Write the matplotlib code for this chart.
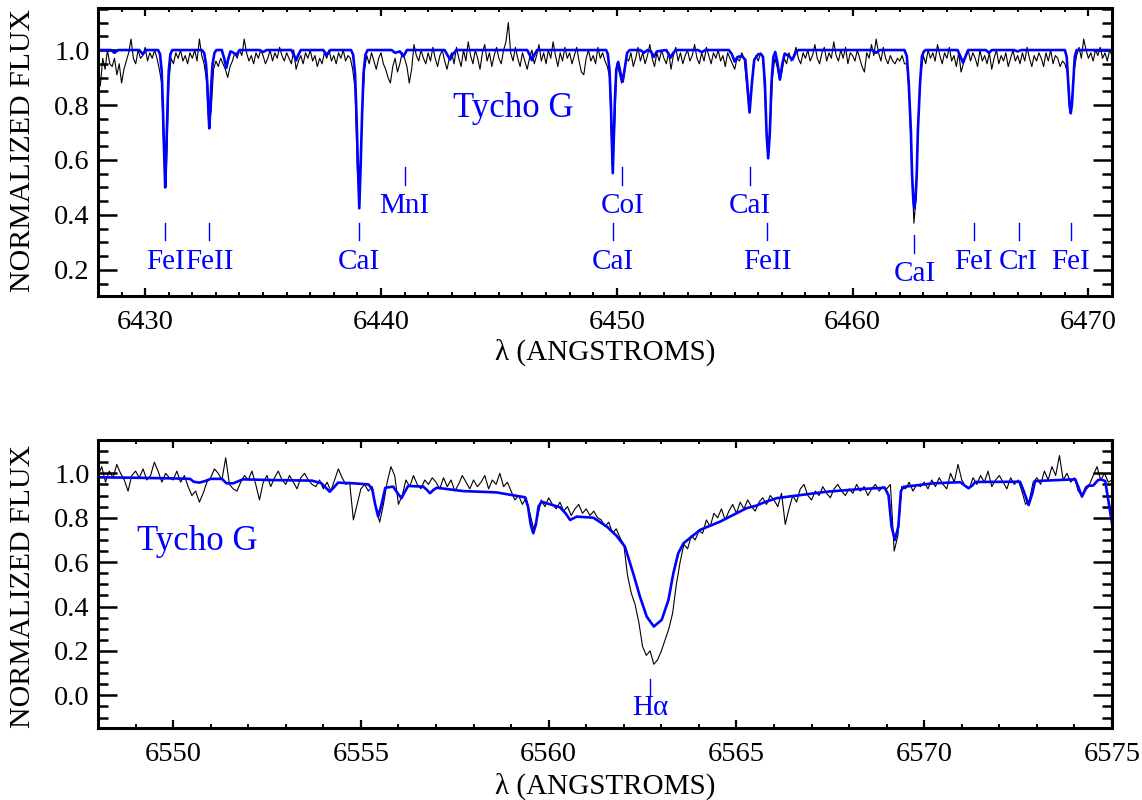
import numpy as np
import matplotlib
matplotlib.use("Agg")
import matplotlib.pyplot as plt
from matplotlib.ticker import MultipleLocator, FormatStrFormatter

plt.rcParams["font.family"] = ["Liberation Serif", "DejaVu Serif"]

BLUE = "#0000ff"

# ---------------- top panel: 6428-6471 A ----------------
# observed spectrum, 0.1 A sampling, flux in hundredths (one row per Angstrom)
obs_top_flux = np.array([
    92, 87, 97, 93, 100, 95, 94, 97, 91, 95,      # 6428
    88, 93, 96, 99, 104, 97, 95, 100, 97, 98,     # 6429
    101, 96, 99, 97, 100, 97, 93, 88, 60, 56,     # 6430
    88, 97, 95, 99, 97, 100, 96, 98, 95, 99,      # 6431
    97, 100, 96, 104, 98, 95, 89, 73, 78, 93,     # 6432
    96, 94, 97, 95, 93, 90, 94, 96, 99, 97,       # 6433
    100, 98, 104, 99, 96, 98, 95, 99, 97, 100,    # 6434
    98, 95, 97, 100, 96, 99, 97, 101, 98, 96,     # 6435
    99, 97, 95, 100, 93, 96, 98, 95, 99, 97,      # 6436
    100, 96, 98, 94, 97, 95, 99, 97, 100, 96,     # 6437
    98, 95, 99, 97, 100, 96, 98, 97, 93, 86,      # 6438
    56, 47, 76, 93, 98, 95, 99, 96, 93, 97,       # 6439
    99, 95, 93, 90, 88, 94, 97, 92, 95, 99,       # 6440
    97, 94, 88, 93, 102, 98, 96, 100, 97, 95,     # 6441
    99, 96, 101, 97, 94, 98, 100, 96, 93, 97,     # 6442
    99, 95, 101, 97, 94, 100, 96, 103, 98, 95,    # 6443
    100, 97, 93, 99, 102, 96, 99, 94, 98, 101,    # 6444
    97, 95, 100, 103, 110, 99, 96, 101, 97, 94,   # 6445
    99, 96, 93, 97, 100, 95, 98, 102, 96, 99,     # 6446
    95, 100, 97, 103, 98, 94, 99, 96, 101, 97,    # 6447
    99, 95, 98, 101, 96, 92, 91, 97, 100, 96,     # 6448
    98, 95, 101, 97, 99, 96, 94, 90, 58, 70,      # 6449
    95, 92, 88, 90, 97, 96, 99, 94, 97, 101,      # 6450
    96, 99, 95, 98, 102, 97, 94, 99, 96, 100,     # 6451
    97, 95, 99, 93, 98, 101, 96, 99, 95, 98,      # 6452
    100, 96, 98, 102, 97, 95, 99, 96, 101, 98,    # 6453
    95, 99, 97, 100, 96, 98, 94, 99, 97, 95,      # 6454
    93, 97, 96, 99, 97, 88, 79, 84, 95, 98,       # 6455
    96, 99, 97, 80, 62, 70, 90, 97, 94, 89,       # 6456
    92, 97, 95, 99, 96, 98, 101, 97, 95, 99,      # 6457
    97, 100, 96, 98, 102, 97, 95, 99, 101, 96,    # 6458
    99, 97, 103, 98, 96, 100, 97, 101, 95, 99,    # 6459
    98, 96, 100, 97, 94, 92, 99, 97, 102, 98,     # 6460
    104, 99, 96, 101, 97, 95, 98, 96, 95, 97,     # 6461
    96, 98, 95, 95, 84, 58, 37, 47, 78, 92,       # 6462
    98, 95, 100, 97, 99, 96, 102, 98, 95, 99,     # 6463
    97, 101, 96, 98, 94, 99, 92, 95, 98, 100,     # 6464
    96, 99, 97, 94, 100, 96, 98, 95, 99, 93,      # 6465
    97, 100, 95, 98, 96, 99, 94, 97, 100, 96,     # 6466
    98, 95, 99, 96, 101, 97, 94, 98, 96, 99,      # 6467
    97, 94, 99, 96, 100, 95, 98, 97, 94, 96,      # 6468
    95, 92, 79, 80, 93, 98, 101, 97, 104, 100,    # 6469
    97, 99, 96, 100, 98, 101, 97, 99, 96, 100,    # 6470
    98,                                           # 6471
]) / 100.0
obs_top_wave = np.linspace(6428.0, 6471.0, len(obs_top_flux))

# synthetic spectrum nodes
model_top_wave = [
    6428.0, 6428.55, 6428.7, 6428.85,
    6429.75, 6429.9, 6430.05,
    6430.55, 6430.63, 6430.7, 6430.75, 6430.8, 6430.85, 6430.9, 6430.95, 6431.0, 6431.07, 6431.15,
    6432.4, 6432.5, 6432.58, 6432.64, 6432.68, 6432.72, 6432.76, 6432.8, 6432.86, 6432.94, 6433.02,
    6433.25, 6433.35, 6433.44, 6433.53, 6433.62, 6433.75, 6433.87, 6434.0,
    6434.85, 6435.0, 6435.15,
    6436.2, 6436.32, 6436.4, 6436.48, 6436.6,
    6437.55, 6437.7, 6437.85,
    6438.73, 6438.82, 6438.9, 6438.96, 6439.02, 6439.08, 6439.14, 6439.2, 6439.26, 6439.34, 6439.43,
    6440.45, 6440.6, 6440.8, 6440.95, 6441.1,
    6442.7, 6442.82, 6442.93, 6443.05, 6443.2,
    6446.2, 6446.32, 6446.4, 6446.5, 6446.62,
    6449.55, 6449.62, 6449.69, 6449.75, 6449.79, 6449.83, 6449.87, 6449.92, 6449.98, 6450.06,
    6450.15, 6450.25, 6450.35, 6450.44, 6450.55,
    6451.0, 6451.15, 6451.3, 6451.45, 6451.57, 6451.7,
    6452.1, 6452.2, 6452.28, 6452.38, 6452.5,
    6453.45, 6453.6, 6453.75,
    6454.75, 6454.88, 6455.0, 6455.12, 6455.3, 6455.45, 6455.53, 6455.63, 6455.73, 6455.83,
    6456.0, 6456.12, 6456.2, 6456.28, 6456.35, 6456.42, 6456.49, 6456.56, 6456.64, 6456.72,
    6456.8, 6456.92, 6457.02, 6457.12, 6457.3, 6457.45, 6457.58, 6457.7,
    6460.85, 6461.0, 6461.15,
    6462.2, 6462.3, 6462.38, 6462.47, 6462.52, 6462.57, 6462.62, 6462.67, 6462.72, 6462.77,
    6462.86, 6462.94, 6463.02, 6463.1,
    6464.45, 6464.58, 6464.68, 6464.78, 6464.9,
    6465.65, 6465.78, 6465.9,
    6466.85, 6467.0, 6467.15,
    6469.0, 6469.08, 6469.14, 6469.2, 6469.25, 6469.3, 6469.36, 6469.42, 6469.5,
    6471.0,
]
model_top_flux = [
    1.0, 1.0, 0.99, 1.0,
    1.0, 0.985, 1.0,
    1.0, 0.985, 0.925, 0.80, 0.64, 0.50, 0.64, 0.80, 0.925, 0.985, 1.0,
    1.0, 0.99, 0.95, 0.87, 0.78, 0.715, 0.78, 0.87, 0.95, 0.99, 1.0,
    1.0, 0.97, 0.935, 0.97, 0.995, 0.99, 0.982, 1.0,
    1.0, 0.993, 1.0,
    1.0, 0.98, 0.962, 0.98, 1.0,
    1.0, 0.982, 1.0,
    1.0, 0.983, 0.914, 0.77, 0.585, 0.424, 0.585, 0.77, 0.914, 0.983, 1.0,
    1.0, 0.99, 0.995, 0.977, 1.0,
    1.0, 0.982, 0.965, 0.985, 1.0,
    1.0, 0.98, 0.963, 0.982, 1.0,
    1.0, 0.985, 0.93, 0.80, 0.67, 0.552, 0.67, 0.82, 0.93, 0.957,
    0.92, 0.885, 0.94, 0.99, 1.0,
    1.0, 0.99, 1.0, 0.995, 0.975, 0.995,
    1.0, 0.985, 0.972, 0.988, 1.0,
    1.0, 0.992, 1.0,
    1.0, 0.985, 0.958, 0.975, 0.978, 0.965, 0.88, 0.773, 0.88, 0.965,
    0.985, 0.985, 0.975, 0.88, 0.70, 0.606, 0.70, 0.88, 0.975, 0.993,
    0.96, 0.893, 0.95, 0.987, 0.978, 0.965, 0.99, 1.0,
    1.0, 0.99, 1.0,
    1.0, 0.977, 0.88, 0.71, 0.55, 0.46, 0.424, 0.46, 0.55, 0.71,
    0.88, 0.977, 0.995, 1.0,
    1.0, 0.975, 0.954, 0.975, 1.0,
    1.0, 0.99, 1.0,
    1.0, 0.995, 1.0,
    1.0, 0.975, 0.89, 0.80, 0.77, 0.80, 0.89, 0.975, 1.0,
    1.0,
]

# line identifications: wavelength, label, tick bottom/top, label height
id_top_wave = [6430.85, 6432.72, 6439.08, 6441.0, 6450.23, 6449.83,
               6455.63, 6456.38, 6462.62, 6465.15, 6467.04, 6469.25]
id_top_name = ["FeI", "FeII", "CaI", "MnI", "CoI", "CaI",
               "CaI", "FeII", "CaI", "FeI", "CrI", "FeI"]
id_top_tick_lo = [0.309, 0.309, 0.309, 0.509, 0.509, 0.309,
                  0.509, 0.309, 0.260, 0.309, 0.309, 0.309]
id_top_tick_hi = [0.372, 0.372, 0.372, 0.576, 0.576, 0.372,
                  0.576, 0.372, 0.327, 0.372, 0.372, 0.372]
id_top_text_y = [0.229, 0.229, 0.229, 0.434, 0.434, 0.229,
                 0.434, 0.229, 0.184, 0.229, 0.229, 0.229]

# ---------------- bottom panel: 6548-6575 A (H-alpha) ----------------
obs_bot_flux = np.array([
    99, 103, 96, 101, 98, 104, 100, 97, 92, 99,   # 6548
    101, 98, 102, 97, 99, 105, 101, 96, 100, 98,  # 6549
    97, 101, 96, 99, 94, 90, 92, 87, 91, 96,      # 6550
    98, 102, 100, 97, 107, 95, 93, 92, 96, 99,    # 6551
    97, 101, 95, 88, 96, 99, 94, 98, 101, 97,     # 6552
    95, 99, 96, 93, 98, 100, 97, 95, 94, 97,      # 6553
    93, 96, 92, 97, 102, 98, 95, 96, 79, 86,      # 6554
    93, 95, 92, 94, 84, 78, 86, 96, 103, 99,      # 6555
    86, 90, 97, 94, 99, 95, 93, 97, 95, 98,       # 6556
    96, 93, 98, 94, 97, 92, 95, 99, 96, 93,       # 6557
    97, 94, 96, 99, 93, 97, 95, 100, 94, 96,      # 6558
    92, 88, 90, 86, 89, 82, 75, 80, 88, 85,       # 6559
    89, 86, 84, 87, 83, 85, 81, 84, 86, 82,       # 6560
    84, 81, 83, 80, 79, 76, 78, 73, 75, 71,       # 6561
    68, 54, 46, 41, 33, 22, 18, 20, 14, 16,       # 6562
    20, 25, 30, 37, 50, 60, 68, 66, 72, 70,       # 6563
    74, 73, 79, 76, 82, 80, 84, 79, 83, 86,       # 6564
    82, 87, 84, 88, 85, 83, 87, 89, 86, 90,       # 6565
    88, 85, 91, 77, 84, 90, 87, 93, 95, 90,       # 6566
    88, 92, 90, 94, 91, 89, 93, 95, 92, 90,       # 6567
    93, 91, 95, 92, 94, 90, 93, 95, 92, 94,       # 6568
    93, 95, 65, 72, 94, 93, 96, 92, 95, 94,       # 6569
    96, 93, 97, 94, 98, 95, 93, 100, 96, 104,     # 6570
    97, 94, 93, 98, 95, 99, 96, 101, 94, 97,      # 6571
    99, 96, 93, 98, 95, 97, 92, 86, 88, 96,       # 6572
    98, 95, 101, 97, 103, 99, 108, 97, 100, 96,   # 6573
    98, 92, 90, 94, 95, 99, 103, 97, 100, 96,     # 6574
    97,                                           # 6575
]) / 100.0
obs_bot_wave = np.linspace(6548.0, 6575.0, len(obs_bot_flux))

model_bot_wave = [
    6548.0, 6549.0, 6550.0, 6550.45, 6550.55, 6550.7, 6550.85, 6551.0, 6551.3, 6551.42,
    6551.6, 6551.86, 6552.5, 6553.7, 6553.95, 6554.17, 6554.3, 6554.39, 6554.8, 6555.2,
    6555.3, 6555.38, 6555.46, 6555.55, 6555.65, 6555.86, 6555.98, 6556.08, 6556.18, 6556.26,
    6556.66, 6556.76, 6556.84, 6556.93, 6557.02, 6557.72, 6558.61, 6559.37, 6559.45, 6559.52,
    6559.59, 6559.66, 6559.73, 6559.81, 6560.3, 6560.45, 6560.57, 6560.75, 6561.19, 6561.55,
    6561.8, 6562.03, 6562.25, 6562.43, 6562.61, 6562.8, 6563.01, 6563.19, 6563.32, 6563.45,
    6563.59, 6564.03, 6564.56, 6565.27, 6565.54, 6565.72, 6566.07, 6566.52, 6567.4, 6568.29,
    6568.95, 6569.05, 6569.13, 6569.22, 6569.31, 6569.38, 6569.45, 6570.25, 6570.96, 6571.08,
    6571.18, 6571.28, 6571.36, 6572.55, 6572.65, 6572.78, 6572.88, 6572.95, 6574.02, 6574.1,
    6574.2, 6574.3, 6574.38, 6574.5, 6574.62, 6574.7, 6574.82, 6574.9, 6575.0,
]
model_bot_flux = [
    0.982, 0.98, 0.977, 0.975, 0.962, 0.958, 0.965, 0.975, 0.975, 0.955,
    0.955, 0.973, 0.970, 0.967, 0.955, 0.917, 0.94, 0.958, 0.955, 0.950,
    0.93, 0.86, 0.805, 0.86, 0.935, 0.94, 0.91, 0.888, 0.92, 0.943,
    0.94, 0.925, 0.91, 0.925, 0.935, 0.920, 0.914, 0.892, 0.85, 0.77,
    0.73, 0.77, 0.85, 0.872, 0.847, 0.82, 0.79, 0.805, 0.80, 0.76,
    0.72, 0.67, 0.55, 0.445, 0.355, 0.31, 0.34, 0.43, 0.55, 0.64,
    0.685, 0.745, 0.782, 0.843, 0.855, 0.868, 0.888, 0.898, 0.917, 0.929,
    0.935, 0.90, 0.76, 0.70, 0.76, 0.92, 0.939, 0.955, 0.96, 0.945,
    0.933, 0.945, 0.961, 0.962, 0.92, 0.857, 0.91, 0.965, 0.973, 0.94,
    0.895, 0.93, 0.944, 0.945, 0.968, 0.973, 0.965, 0.88, 0.775,
]

id_bot_wave = [6562.70]
id_bot_name = ["H\u03b1"]
id_bot_tick_lo = [0.003]
id_bot_tick_hi = [0.074]
id_bot_text_y = [-0.057]


def style_axes(ax, xmajor):
    for sp in ax.spines.values():
        sp.set_linewidth(2.2)
    ax.xaxis.set_major_locator(MultipleLocator(xmajor))
    ax.xaxis.set_minor_locator(MultipleLocator(1))
    ax.yaxis.set_major_locator(MultipleLocator(0.2))
    ax.yaxis.set_minor_locator(MultipleLocator(0.05))
    ax.yaxis.set_major_formatter(FormatStrFormatter("%.1f"))
    ax.tick_params(which="both", direction="in", top=True, right=True,
                   labelsize=20.5, color="black")
    ax.tick_params(axis="y", which="major", length=14, width=1.8, pad=6)
    ax.tick_params(axis="y", which="minor", length=7, width=1.8)
    ax.tick_params(axis="x", which="major", length=6, width=1.6, pad=10)
    ax.tick_params(axis="x", which="minor", length=3, width=1.4)


def draw_ids(ax, waves, names, lo, hi, ty):
    for w, n, a, b, t in zip(waves, names, lo, hi, ty):
        ax.plot([w, w], [a, b], color=BLUE, lw=1.0)
        ax.text(w, t, n, color=BLUE, fontsize=21, ha="center", va="center")


fig = plt.figure(figsize=(11.42, 8.0), dpi=100)

ax1 = fig.add_axes([98 / 1142, 1 - 296 / 800, 1014 / 1142, 288 / 800])
ax1.plot(obs_top_wave, obs_top_flux, color="black", lw=0.8)
ax1.plot(model_top_wave, model_top_flux, color=BLUE, lw=1.9)
draw_ids(ax1, id_top_wave, id_top_name, id_top_tick_lo, id_top_tick_hi, id_top_text_y)
ax1.text(6443.06, 0.789, "Tycho G", color=BLUE, fontsize=25, ha="left", va="center")
ax1.set_xlim(6428, 6471)
ax1.set_ylim(0.105, 1.153)
style_axes(ax1, 10)

ax2 = fig.add_axes([98 / 1142, 1 - 728 / 800, 1014 / 1142, 288 / 800])
ax2.plot(obs_bot_wave, obs_bot_flux, color="black", lw=0.8)
ax2.plot(model_bot_wave, model_bot_flux, color=BLUE, lw=1.9)
draw_ids(ax2, id_bot_wave, id_bot_name, id_bot_tick_lo, id_bot_tick_hi, id_bot_text_y)
ax2.text(6549.03, 0.692, "Tycho G", color=BLUE, fontsize=25, ha="left", va="center")
ax2.set_xlim(6548, 6575)
ax2.set_ylim(-0.147, 1.15)
style_axes(ax2, 5)

fig.text(23 / 1142, 1 - 150 / 800, "NORMALIZED FLUX", rotation=90,
         ha="center", va="center", fontsize=21.5)
fig.text(23 / 1142, 1 - 586 / 800, "NORMALIZED FLUX", rotation=90,
         ha="center", va="center", fontsize=21.5)
fig.text(605 / 1142, 1 - 352 / 800, "\u03bb (ANGSTROMS)",
         ha="center", va="center", fontsize=21)
fig.text(605 / 1142, 1 - 786 / 800, "\u03bb (ANGSTROMS)",
         ha="center", va="center", fontsize=21)

fig.savefig("out.png", dpi=100)
